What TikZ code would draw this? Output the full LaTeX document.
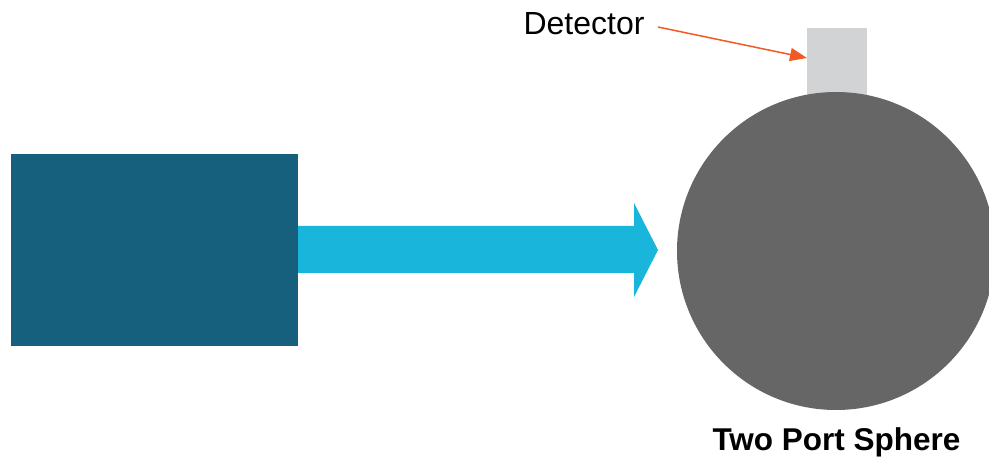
\documentclass[tikz,border=0pt]{standalone}
\usepackage{fontspec}
\setmainfont{Liberation Sans}
\usetikzlibrary{arrows.meta,calc}
\definecolor{srcblue}{HTML}{16607E}
\definecolor{beamblue}{HTML}{19B5DA}
\definecolor{spheregray}{HTML}{666666}
\definecolor{detgray}{HTML}{D1D3D4}
\definecolor{pointer}{HTML}{F15A24}
\tikzset{
  solidbox/.style={draw=none, inner sep=0pt, outer sep=0pt},
  lbl/.style={inner sep=0pt, outer sep=0pt, anchor=base, font=\fontsize{32}{36}\selectfont},
  pointerline/.style={draw=pointer, line width=1.5pt, -{Triangle[length=17pt,width=13pt]}}
}
\begin{document}
\begin{tikzpicture}[x=1pt,y=-1pt]
\useasboundingbox (0,0) rectangle (989,457);
% source box
\node[solidbox, fill=srcblue, minimum width=287pt, minimum height=192pt, anchor=north west] (src) at (11,154) {};
% beam arrow
\fill[beamblue] (298,226) -- (634,226) -- (634,203) -- (658,250) -- (634,297) -- (634,273) -- (298,273) -- cycle;
% detector
\node[solidbox, fill=detgray, minimum width=60pt, minimum height=72pt, anchor=north west] (det) at (807,28) {};
% sphere
\node[solidbox, circle, fill=spheregray, minimum size=318pt] (sphere) at (836,251) {};
% labels
\node[lbl] (detlbl) at (584,35) {Detector};
\node[lbl, font=\fontsize{31.5}{36}\selectfont\bfseries] (spherelbl) at (836.5,450) {Two Port Sphere};
% pointer
\coordinate (pstart) at (658,27);
\draw[pointerline] (pstart) -- (det.west |- 0,58);
\end{tikzpicture}
\end{document}
